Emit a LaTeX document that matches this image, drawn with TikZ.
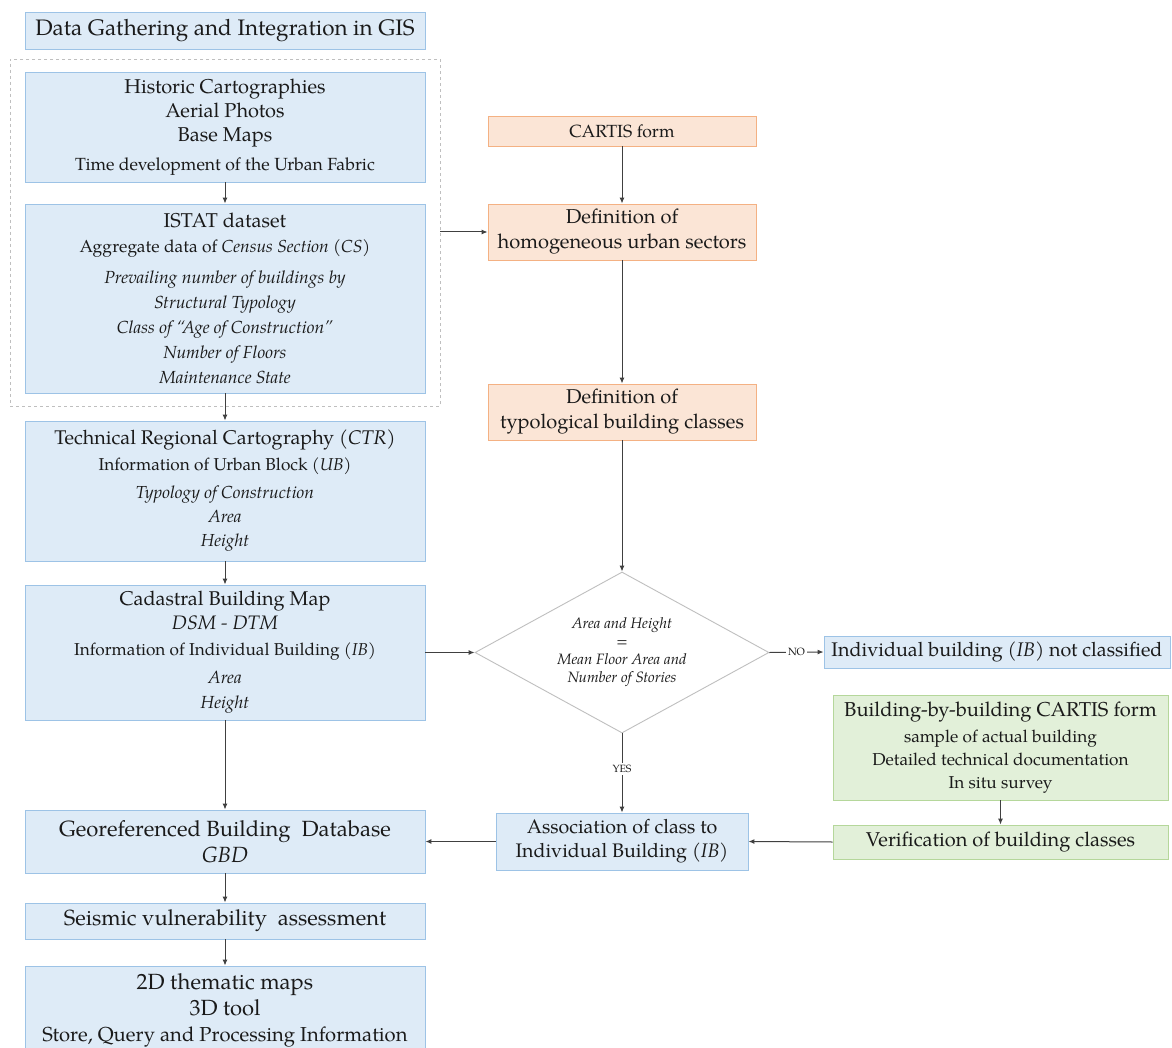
\documentclass[tikz,border=0pt]{standalone}
\usepackage{fontspec}
\setmainfont{texgyrepagella}[Extension=.otf, UprightFont=*-regular, ItalicFont=*-italic, BoldFont=*-bold, BoldItalicFont=*-bolditalic]
\usetikzlibrary{arrows.meta,shapes.geometric}
\definecolor{bfill}{HTML}{DEEBF7}
\definecolor{bline}{HTML}{9DC3E6}
\definecolor{ofill}{HTML}{FBE5D6}
\definecolor{oline}{HTML}{F4B183}
\definecolor{gfill}{HTML}{E2F0D9}
\definecolor{gline}{HTML}{B5D79B}
\definecolor{arr}{HTML}{404040}
\definecolor{txt}{HTML}{1A1A1A}
\newcommand\fz[2]{\fontsize{#1}{#2}\selectfont}
\tikzset{
  base/.style={rectangle, inner sep=0pt, align=center, text=txt, line width=0.9pt},
  bbox/.style={base, draw=bline, fill=bfill, minimum width=400pt},
  obox/.style={base, draw=oline, fill=ofill, minimum width=268pt},
  gbox/.style={base, draw=gline, fill=gfill, minimum width=335pt},
  conn/.style={draw=arr, line width=1pt, -{Latex[length=6pt,width=5pt]}},
  lab/.style={fill=white, inner sep=2pt, text=txt, font=\fz{10.5}{12}},
}
\begin{document}
\begin{tikzpicture}[x=1pt,y=-1pt]
\useasboundingbox[fill=white] (0,0) rectangle (1172,1048);
% group
\node[draw=black!25, dash pattern=on 3pt off 3pt, line width=0.8pt, minimum width=430pt, minimum height=347pt, inner sep=0pt] (grp) at (225,232.5) {};
% left column
\node[bbox, minimum height=37pt, font=\fz{22.4}{26}] (title) at (225,30.5) {Data Gathering and Integration in GIS};
\node[bbox, minimum height=110pt, font=\fz{20}{24}] (hist) at (225,127) {Historic Cartographies\\Aerial Photos\\Base Maps\\[5pt]{\fz{17.6}{24}Time development of the Urban Fabric}};
\node[bbox, minimum height=189pt, font=\fz{17.5}{25}] (istat) at (225,298.5) {{\fz{20}{25}ISTAT dataset}\\{\fz{17.4}{25}Aggregate data of \textit{Census Section (CS)}}\\[6pt]
  \itshape Prevailing number of buildings by\\\itshape Structural Typology\\\itshape Class of ``Age of Construction''\\\itshape Number of Floors\\\itshape Maintenance State};
\node[bbox, minimum height=140pt, font=\fz{17.4}{24}] (ctr) at (225,491) {{\fz{19.8}{24}Technical Regional Cartography (\textit{CTR})}\\[2pt]{\fz{17.2}{24}Information of Urban Block (\textit{UB})}\\[4pt]
  \itshape Typology of Construction\\\itshape Area\\\itshape Height};
\node[bbox, minimum height=135pt, font=\fz{17.5}{25}] (cad) at (225,652.5) {{\fz{19.9}{24}Cadastral Building Map}\\[-1pt]{\fz{19.5}{24}\itshape DSM - DTM}\\[1pt]{\fz{17.2}{25}Information of Individual Building (\textit{IB})}\\[3pt]
  \itshape Area\\\itshape Height};
\node[bbox, minimum height=63pt, font=\fz{22}{26}] (gbd) at (225,841.5) {Georeferenced Building\ \ Database\\\itshape GBD};
\node[bbox, minimum height=36pt, font=\fz{21.9}{25}] (seis) at (225,921) {Seismic vulnerability\ \ assessment};
\node[bbox, minimum height=88pt, font=\fz{22}{26}] (maps) at (225,1010) {2D thematic maps\\3D tool\\{\fz{20.2}{26}Store, Query and Processing Information}};
% middle column
\node[obox, minimum height=30pt, font=\fz{17.6}{20}] (cartis) at (622,131) {CARTIS form};
\node[obox, minimum height=56pt, font=\fz{20.1}{25}] (homog) at (622,232) {Definition of\\homogeneous urban sectors};
\node[obox, minimum height=56pt, font=\fz{20}{25}] (typo) at (622,412) {Definition of\\typological building classes};
\node[diamond, draw=black!25, fill=white, line width=0.9pt, inner sep=0pt, minimum width=294pt, minimum height=161pt, aspect=1.826, align=center, text=txt, font=\fz{15}{18}\itshape] (dec) at (622,652.5) {Area and Height\\=\\Mean Floor Area and\\Number of Stories};
\node[bbox, minimum width=252pt, minimum height=57pt, font=\fz{19.6}{24}] (assoc) at (622,841.5) {Association of class to\\Individual Building \textit{(IB)}};
% right column
\node[bbox, minimum width=346pt, minimum height=32pt, font=\fz{19.7}{24}] (notcl) at (997,652) {Individual building \textit{(IB)} not classified};
\node[gbox, minimum height=105pt, font=\fz{17.2}{23}] (cartb) at (1000.5,747.5) {{\fz{20.1}{24}Building-by-building CARTIS form}\\[3pt]sample of actual building\\Detailed technical documentation\\In situ survey};
\node[gbox, minimum height=34pt, font=\fz{20}{22}] (verif) at (1000.5,842) {Verification of building classes};
% connectors
\draw[conn] (hist) -- (istat);
\draw[conn] (istat) -- (ctr);
\draw[conn] (ctr) -- (cad);
\draw[conn] (cad) -- (gbd);
\draw[conn] (gbd) -- (seis);
\draw[conn] (seis) -- (maps);
\draw[conn] (grp.east |- homog.west) -- (homog.west);
\draw[conn] (cartis) -- (homog);
\draw[conn] (homog) -- (typo);
\draw[conn] (typo.south) -- (dec.north);
\draw[conn] (cad.east) -- (dec.west);
\draw[conn] (dec.east) -- node[lab] {NO} (notcl.west);
\draw[conn] (dec.south) -- node[lab, pos=0.45] {YES} (assoc.north);
\draw[conn] (assoc.west) -- (gbd.east);
\draw[conn] (verif.west) -- (assoc.east);
\draw[conn] (cartb) -- (verif);
\end{tikzpicture}
\end{document}
